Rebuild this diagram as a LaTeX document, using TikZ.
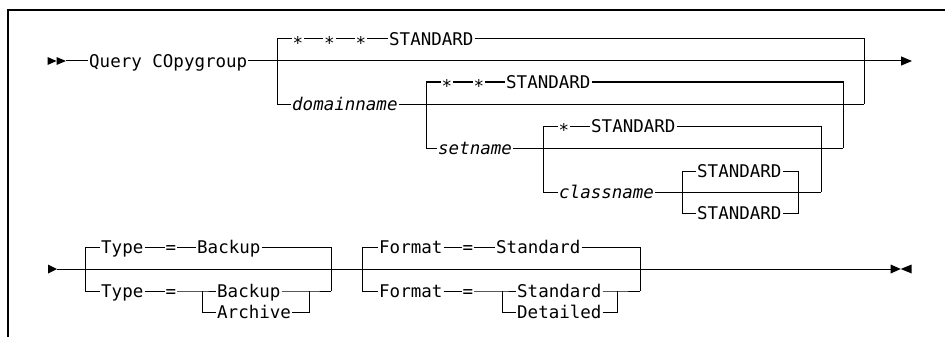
\documentclass[tikz,border=0pt]{standalone}
\usepackage{fontspec}
\newfontfamily\mono{DejaVu Sans Mono}
\usetikzlibrary{arrows.meta}
\tikzset{
  txt/.style={inner xsep=1pt, inner ysep=0pt, text height=12.8pt, text depth=0pt,
    anchor=west, font=\mono\fontsize{17.5pt}{20pt}\selectfont},
  itxt/.style={txt, font=\mono\itshape\fontsize{17.5pt}{20pt}\selectfont},
  sym/.style={txt, anchor=center},
  rail/.style={line width=1pt},
  frame/.style={line width=1.2pt},
  tipfill/.style={fill=black},
}
\newcommand{\st}{\raisebox{-3.8pt}{*}}
\begin{document}
\begin{tikzpicture}[x=1pt, y=-1pt]
\useasboundingbox (0,0) rectangle (945,337);
% frame
\draw[frame] (8,337) -- (8,10) -- (945,10);

% ---------------- row 1 ----------------
\fill[tipfill] (47.5,57) -- (56.5,61) -- (47.5,65) -- cycle;
\fill[tipfill] (56.5,57) -- (66,61) -- (56.5,65) -- cycle;
\coordinate (s1) at (66,61);
\coordinate (e1) at (912,61);
\node[txt] (q) at (88,61) {Query COpygroup};
\draw[rail] (s1) -- (q.west);
\draw[rail, -{Triangle[length=11pt,width=9pt]}] (q.east) -- (e1);

% level 1
\coordinate (L1t) at (277,39);
\coordinate (L1b) at (277,104);
\coordinate (R1t) at (864,39);
\coordinate (R1b) at (864,104);
\node[sym] (a1) at (298,39) {\st};
\node[sym] (a2) at (329.5,39) {\st};
\node[sym] (a3) at (361,39) {\st};
\node[txt] (sd1) at (388,39) {STANDARD};
\node[itxt] (dn) at (291,104) {domainname};
\draw[rail] (L1b) -- (L1t) -- (a1.west) (a1.east) -- (a2.west) (a2.east) -- (a3.west)
  (a3.east) -- (sd1.west) (sd1.east) -- (R1t) -- (R1b);
\draw[rail] (L1b) -- (dn.west);
\draw[rail] (dn.east) -- (R1b);

% level 2
\coordinate (L2t) at (426,82);
\coordinate (L2b) at (426,148);
\coordinate (R2t) at (843,82);
\coordinate (R2b) at (843,148);
\node[sym] (a4) at (447,82) {\st};
\node[sym] (a5) at (479,82) {\st};
\node[txt] (sd2) at (505,82) {STANDARD};
\node[itxt] (sn) at (437,148) {setname};
\draw[rail] (L2b) -- (L2t) -- (a4.west) (a4.east) -- (a5.west) (a5.east) -- (sd2.west)
  (sd2.east) -- (R2t) -- (R2b);
\draw[rail] (L2b) -- (sn.west);
\draw[rail] (sn.east) -- (R2b);

% level 3
\coordinate (L3t) at (543,126);
\coordinate (L3b) at (543,192);
\coordinate (R3t) at (821,126);
\coordinate (R3b) at (821,192);
\node[sym] (a6) at (564,126) {\st};
\node[txt] (sd3) at (590,126) {STANDARD};
\node[itxt] (cn) at (558,192) {classname};
\draw[rail] (L3b) -- (L3t) -- (a6.west) (a6.east) -- (sd3.west) (sd3.east) -- (R3t) -- (R3b);
\draw[rail] (L3b) -- (cn.west);
\draw[rail] (cn.east) -- (R3b);

% level 4
\coordinate (L4t) at (682,171);
\coordinate (L4b) at (682,213);
\coordinate (R4t) at (798,171);
\coordinate (R4b) at (798,213);
\node[txt] (sd4) at (696,171) {STANDARD};
\node[txt] (sd5) at (696,213) {STANDARD};
\draw[rail] (L4b) -- (L4t) -- (sd4.west) (sd4.east) -- (R4t) -- (R4b) -- (sd5.east)
  (sd5.west) -- (L4b);

% ---------------- row 2 ----------------
\fill[tipfill] (48,264.5) -- (57,269) -- (48,273.5) -- cycle;
\coordinate (s2) at (57,269);
\coordinate (e2) at (891,269);
\fill[tipfill] (890.7,264.5) -- (900.7,269) -- (890.7,273.5) -- cycle;
\fill[tipfill] (911.7,264.5) -- (900.7,269) -- (911.7,273.5) -- cycle;
\draw[rail] (s2) -- (e2);

% Type block
\coordinate (TL1) at (85,247);
\coordinate (TL2) at (85,291);
\coordinate (TR1) at (331,247);
\coordinate (TR2) at (331,291);
\coordinate (TS1t) at (202,291);
\coordinate (TS1b) at (202,312);
\coordinate (TS2t) at (309,291);
\coordinate (TS2b) at (309,312);
\node[txt] (ty1) at (100,247) {Type};
\node[sym] (eq1) at (171,247) {=};
\node[txt] (ba1) at (196,247) {Backup};
\node[txt] (ty2) at (100,291) {Type};
\node[sym] (eq2) at (171,291) {=};
\node[txt] (ba2) at (216,291) {Backup};
\node[txt] (ar) at (216,312) {Archive};
\draw[rail] (TL2) -- (TL1) -- (ty1.west) (ty1.east) -- (eq1.west) (eq1.east) -- (ba1.west)
  (ba1.east) -- (TR1) -- (TR2);
\draw[rail] (TL2) -- (ty2.west) (ty2.east) -- (eq2.west) (eq2.east) -- (TS1t) -- (ba2.west)
  (ba2.east) -- (TS2t) -- (TR2);
\draw[rail] (TS1t) -- (TS1b) -- (ar.west) (ar.east) -- (TS2b) -- (TS2t);

% Format block
\coordinate (FL1) at (362,247);
\coordinate (FL2) at (362,291);
\coordinate (FR1) at (640,247);
\coordinate (FR2) at (640,291);
\coordinate (FS1t) at (502,291);
\coordinate (FS1b) at (502,312);
\coordinate (FS2t) at (617,291);
\coordinate (FS2b) at (617,312);
\node[txt] (fo1) at (378,247) {Format};
\node[sym] (eq3) at (468,247) {=};
\node[txt] (sa1) at (495,247) {Standard};
\node[txt] (fo2) at (378,291) {Format};
\node[sym] (eq4) at (468,291) {=};
\node[txt] (sa2) at (516,291) {Standard};
\node[txt] (de) at (516,312) {Detailed};
\draw[rail] (FL2) -- (FL1) -- (fo1.west) (fo1.east) -- (eq3.west) (eq3.east) -- (sa1.west)
  (sa1.east) -- (FR1) -- (FR2);
\draw[rail] (FL2) -- (fo2.west) (fo2.east) -- (eq4.west) (eq4.east) -- (FS1t) -- (sa2.west)
  (sa2.east) -- (FS2t) -- (FR2);
\draw[rail] (FS1t) -- (FS1b) -- (de.west) (de.east) -- (FS2b) -- (FS2t);
\end{tikzpicture}
\end{document}
